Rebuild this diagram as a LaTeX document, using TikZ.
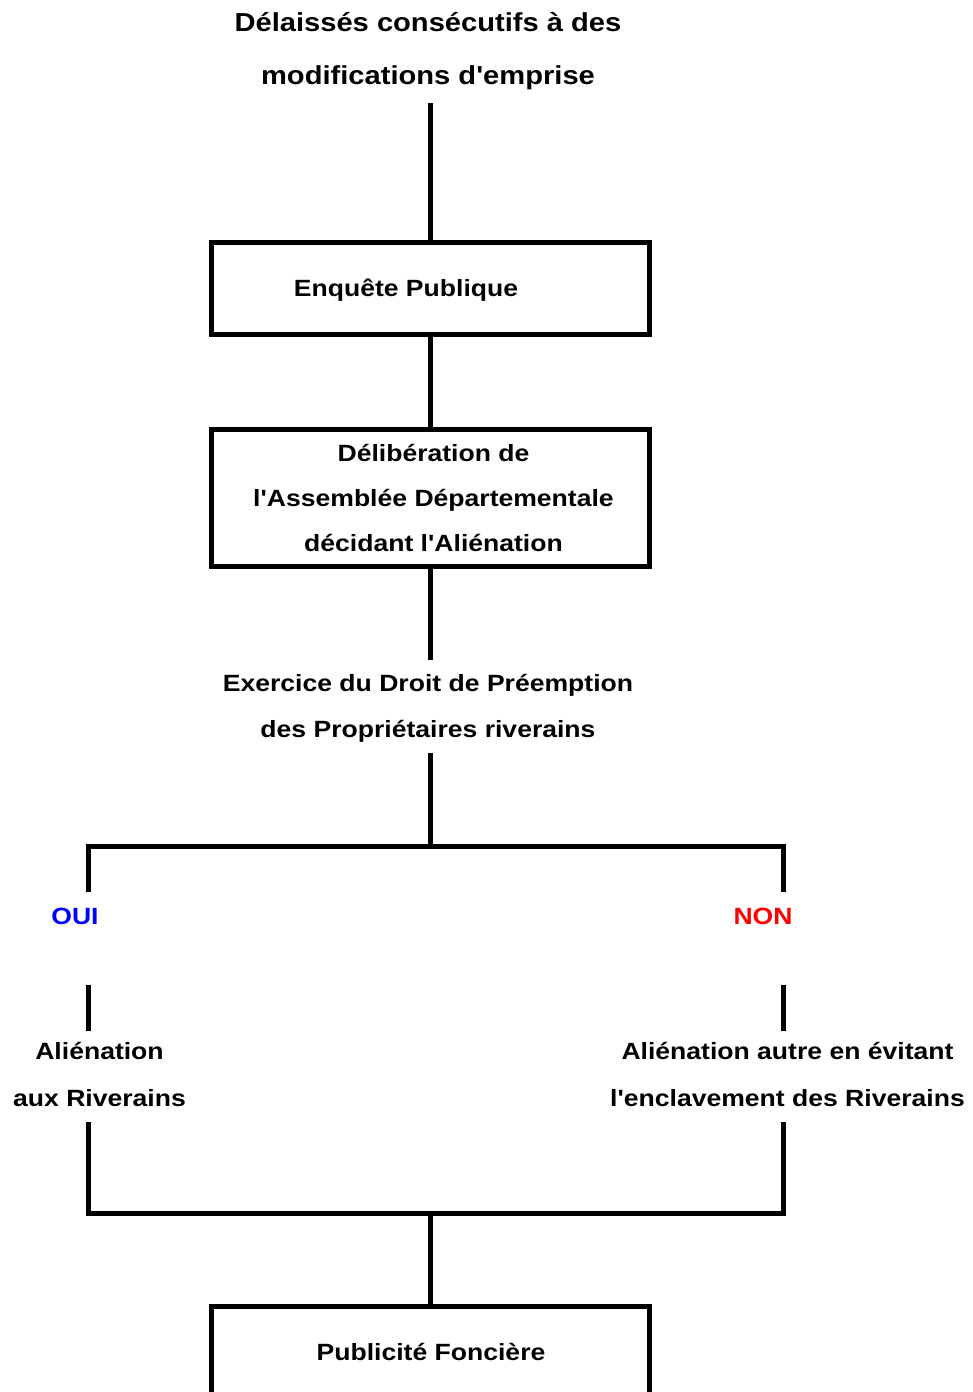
\documentclass[tikz,border=0pt]{standalone}
\usepackage{fontspec}
\newfontfamily\corps{Liberation Sans}[FakeStretch=1.13]
\newfontfamily\titlefont{Liberation Sans}[FakeStretch=1.12]
\definecolor{oui}{RGB}{0,0,255}
\definecolor{non}{RGB}{255,0,0}
\tikzset{
  trait/.style={line width=5pt},
  cadre/.style={draw,line width=5pt,minimum width=438pt,inner sep=0pt,outer sep=0pt},
  txt/.style={anchor=base,inner sep=0pt,font=\fontsize{23.5}{46}\corps\bfseries},
  titre/.style={anchor=base,inner sep=0pt,font=\fontsize{26}{53}\titlefont\bfseries}
}
\begin{document}
\begin{tikzpicture}[x=1pt,y=-1pt]
      \useasboundingbox (0,0) rectangle (973,1392);

      % textes (ancre base = ligne de base de la derniere ligne)
      \node[titre,align=center] (titre) at (428,84) {Délaissés consécutifs à des\\modifications d'emprise};
      \node[cadre,minimum height=92pt] (enq) at (430,288.5) {};
      \node[txt] (enqtxt) at (406,296) {Enquête Publique};
      \node[cadre,minimum height=136.5pt] (delib) at (430,497.75) {};
      \node[txt,align=center,font=\fontsize{23.5}{45}\corps\bfseries] (delibtxt) at (433.5,551.7)
        {Délibération de\\l'Assemblée Départementale\\décidant l'Aliénation};
      \node[txt,align=center] (pre) at (428,737.7) {Exercice du Droit de Préemption\\des Propriétaires riverains};
      \node[txt,text=oui] (oui) at (75,924) {OUI};
      \node[txt,text=non] (non) at (763,924) {NON};
      \node[txt,align=center,font=\fontsize{23.5}{46.7}\corps\bfseries] (rive) at (99.5,1106) {Aliénation\\aux Riverains};
      \node[txt,align=center,font=\fontsize{23.5}{46.7}\corps\bfseries] (autre) at (787.5,1106) {Aliénation autre en évitant\\l'enclavement des Riverains};
      \node[cadre,minimum height=91pt] (pub) at (430,1351.5) {};
      \node[txt] (pubtxt) at (431,1360) {Publicité Foncière};

      \coordinate (t0) at (430,103);
      \coordinate (p0) at (430,660);
      \coordinate (p1) at (430,753);
      \coordinate (fork) at (430,846);
      \coordinate (g1) at (88.5,892);
      \coordinate (d1) at (783,892);
      \coordinate (g2) at (88.5,985);
      \coordinate (g3) at (88.5,1031);
      \coordinate (d2) at (783,985);
      \coordinate (d3) at (783,1031);
      \coordinate (g4) at (88.5,1122);
      \coordinate (d4) at (783,1122);
      \coordinate (join) at (430,1213);

      % liaisons
      \draw[trait] (t0) -- (enq.north);
      \draw[trait] (enq.south) -- (delib.north);
      \draw[trait] (delib.south) -- (p0);
      \draw[trait] (p1) -- (fork);
      \draw[trait] (g1) |- (fork) -| (d1);
      \draw[trait] (g2) -- (g3);
      \draw[trait] (d2) -- (d3);
      \draw[trait] (g4) |- (join) -| (d4);
      \draw[trait] (join) -- (pub.north);
\end{tikzpicture}
\end{document}
